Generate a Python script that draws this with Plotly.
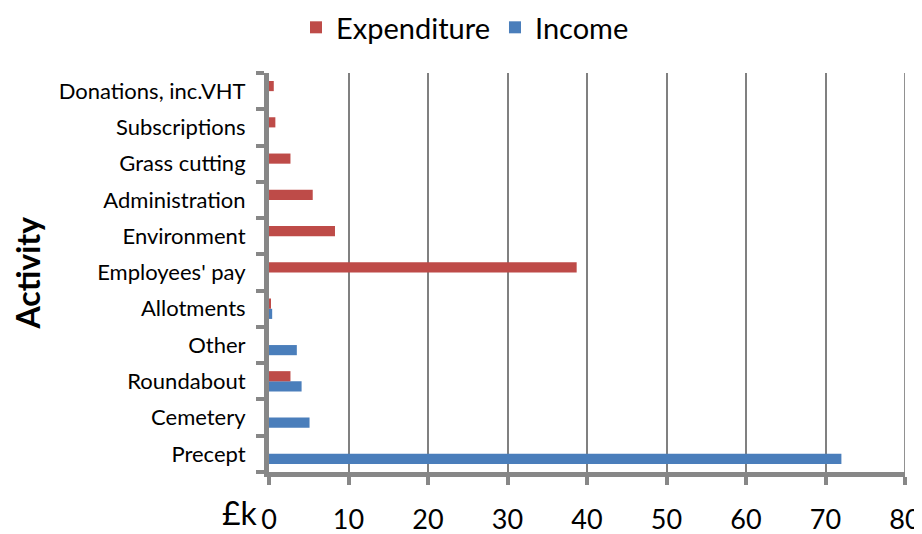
import plotly.graph_objects as go

categories = ["Precept", "Cemetery", "Roundabout", "Other", "Allotments",
              "Employees' pay", "Environment", "Administration", "Grass cutting",
              "Subscriptions", "Donations, inc.VHT"]
expenditure = [0, 0, 2.7, 0, 0.2, 38.7, 8.3, 5.5, 2.7, 0.8, 0.6]
income = [72.0, 5.1, 4.1, 3.5, 0.4, 0, 0, 0, 0, 0, 0]
x_ticks = [0, 10, 20, 30, 40, 50, 60, 70, 80]

FONT = "Lato"
fig = go.Figure()
fig.add_trace(go.Bar(y=categories, x=income, orientation="h", name="Income",
                     marker=dict(color="#4A7EBB", line=dict(width=0)), legendrank=2))
fig.add_trace(go.Bar(y=categories, x=expenditure, orientation="h", name="Expenditure",
                     marker=dict(color="#BE4B48", line=dict(width=0)), legendrank=1))

# page body has an 8px default margin, so the figure is sized to fit the window
fig.update_layout(
    width=914, height=526,
    margin=dict(l=261, r=17, t=65, b=62, autoexpand=False),
    barmode="group", bargap=0.44, bargroupgap=0,
    plot_bgcolor="white", paper_bgcolor="white",
    font=dict(family=FONT, color="black"),
    legend=dict(orientation="h", xref="container", yref="container",
                x=0.5, xanchor="center", y=0.963, yanchor="middle",
                font=dict(size=29), traceorder="normal"),
    xaxis=dict(range=[0, 80], tickvals=x_ticks, showgrid=True, automargin=False,
               gridcolor="#808080", gridwidth=2, zeroline=False,
               showline=True, linecolor="#878787", linewidth=5,
               ticks="outside", ticklen=8, tickwidth=4, tickcolor="#878787",
               ticklabelstandoff=12,
               tickfont=dict(size=27), mirror=False),
    yaxis=dict(type="category", showline=True, linecolor="#878787", linewidth=5,
               automargin=False,
               ticks="outside", tickson="boundaries", ticklen=8, tickwidth=4,
               tickcolor="#878787", tickfont=dict(size=22), showgrid=False,
               ticklabelstandoff=14),
)
fig.add_shape(type="line", xref="x", yref="paper", x0=80, x1=80, y0=0, y1=1,
              line=dict(color="#222222", width=1))
fig.add_annotation(text="<b>Activity</b>", xref="paper", yref="paper", x=(19 - 261) / 636, y=0.5,
                   xanchor="center", yanchor="middle", textangle=-90, showarrow=False,
                   borderpad=0, font=dict(size=32))
fig.add_annotation(text="£k", xref="x", yref="paper", x=0, y=0, xanchor="right",
                   yanchor="middle", xshift=-10, yshift=-40, showarrow=False,
                   borderpad=0, font=dict(size=32))
fig.write_html("out.html")
